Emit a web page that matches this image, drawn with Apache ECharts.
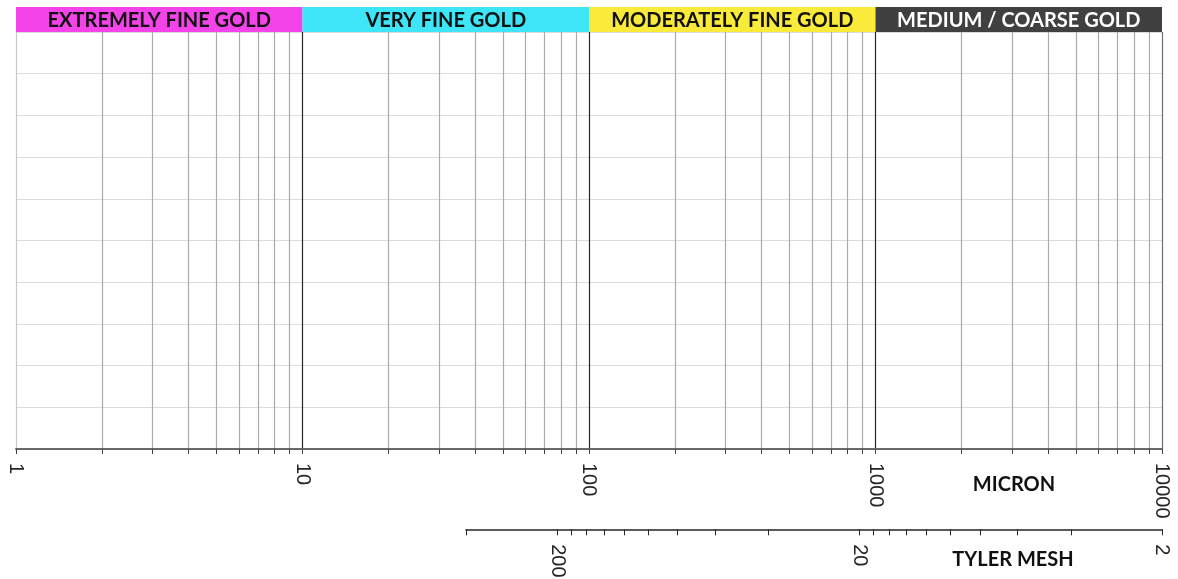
<!DOCTYPE html>
<html>
<head>
<meta charset="utf-8">
<script src="https://cdn.jsdelivr.net/npm/echarts@6/dist/echarts.min.js"></script>
<style>
html,body{margin:0;padding:0;background:#fff;}
#c{width:1178px;height:579px;}
</style>
</head>
<body>
<div id="c"></div>
<script>
// ---- data ----
const micronTicks = [1,2,3,4,5,6,7,8,9,10,20,30,40,50,60,70,80,90,100,200,300,400,500,600,700,800,900,1000,2000,3000,4000,5000,6000,7000,8000,9000,10000];
const micronLabels = [1,10,100,1000,10000];
const meshTicks = [400,200,180,160,140,120,100,80,60,40,20,18,16,14,12,10,8,6,4,2];
const meshLabels = [200,20,2];
const bandNames = ['EXTREMELY FINE GOLD','VERY FINE GOLD','MODERATELY FINE GOLD','MEDIUM / COARSE GOLD'];
const bandStart = [1,10,100,1000];
const bandEnd = [10,100,1000,10000];
const yRows = [0,10];

// ---- styles ----
const bandColors = ['#F443E8','#3DE5F6','#FAEB3B','#404040'];
const bandText = ['#111111','#111111','#111111','#ffffff'];
const lineColors = micronTicks.map(function(v,i){
  if (i === 0) return '#c9c9c9';
  if (i === micronTicks.length-1) return '#6e6e6e';
  if (micronLabels.indexOf(v) >= 0) return '#262626';
  return '#ababab';
});

const chart = echarts.init(document.getElementById('c'), null, {renderer:'canvas'});
const numFont = 'Liberation Sans';
const boldFont = 'Lato';
const plain = function(v){ return String(Math.round(v)); };

const option = {
  animation: false,
  grid: [
    {left:16, right:16, top:32, bottom:130},
    {left:16, right:16, top:7, height:25},
    {left:466, right:16, top:529, height:1}
  ],
  xAxis: [
    {
      gridIndex:0, type:'log', logBase:10, min:micronLabels[0], max:micronLabels[micronLabels.length-1],
      axisLine:{show:true, onZero:false, lineStyle:{color:'#6a6a6a', width:2}},
      axisTick:{show:true, customValues:micronTicks, length:5, lineStyle:{color:'#404040', width:1}},
      splitLine:{show:true, customValues:micronTicks, lineStyle:{color:lineColors, width:1.2}},
      minorTick:{show:false}, minorSplitLine:{show:false},
      axisLabel:{show:true, customValues:micronLabels, rotate:-90, margin:14, fontFamily:numFont, fontSize:20, color:'#262626', formatter:plain}
    },
    {
      gridIndex:1, type:'log', logBase:10, min:micronLabels[0], max:micronLabels[micronLabels.length-1],
      show:false
    },
    {
      gridIndex:2, type:'log', logBase:10, min:meshTicks[meshTicks.length-1], max:meshTicks[0], inverse:true,
      position:'bottom',
      axisLine:{show:true, onZero:false, lineStyle:{color:'#262626', width:1.5}},
      axisTick:{show:true, customValues:meshTicks, length:6, lineStyle:{color:'#262626', width:1}},
      splitLine:{show:false},
      axisLabel:{show:true, customValues:meshLabels, rotate:-90, margin:15, fontFamily:numFont, fontSize:20, color:'#262626', formatter:plain}
    }
  ],
  yAxis: [
    {gridIndex:0, type:'value', min:yRows[0], max:yRows[1], interval:1,
     axisLine:{show:false}, axisTick:{show:false}, axisLabel:{show:false},
     splitLine:{show:true, lineStyle:{color:'#dcdcdc', width:1.2}}},
    {gridIndex:1, type:'value', min:0, max:1, show:false},
    {gridIndex:2, type:'value', min:0, max:1, show:false}
  ],
  series: [
    {
      type:'line', xAxisIndex:1, yAxisIndex:1, data:[], silent:true,
      markArea:{
        silent:true,
        data: bandNames.map(function(n,i){
          return [
            {name:n, xAxis:bandStart[i], itemStyle:{color:bandColors[i]},
             label:{color:bandText[i]}},
            {xAxis:bandEnd[i]}
          ];
        }),
        label:{show:true, position:'inside', fontFamily:boldFont, fontWeight:'bold', fontSize:20, offset:[0,1]},
        itemStyle:{opacity:1}
      }
    }
  ],
  graphic: [
    {type:'text', x:1014, y:485, style:{text:'MICRON', font:'bold 20px Lato', fill:'#111', align:'center', verticalAlign:'middle'}},
    {type:'text', x:1013, y:560, style:{text:'TYLER MESH', font:'bold 20px Lato', fill:'#111', align:'center', verticalAlign:'middle'}}
  ]
};
chart.setOption(option);
</script>
</body>
</html>
